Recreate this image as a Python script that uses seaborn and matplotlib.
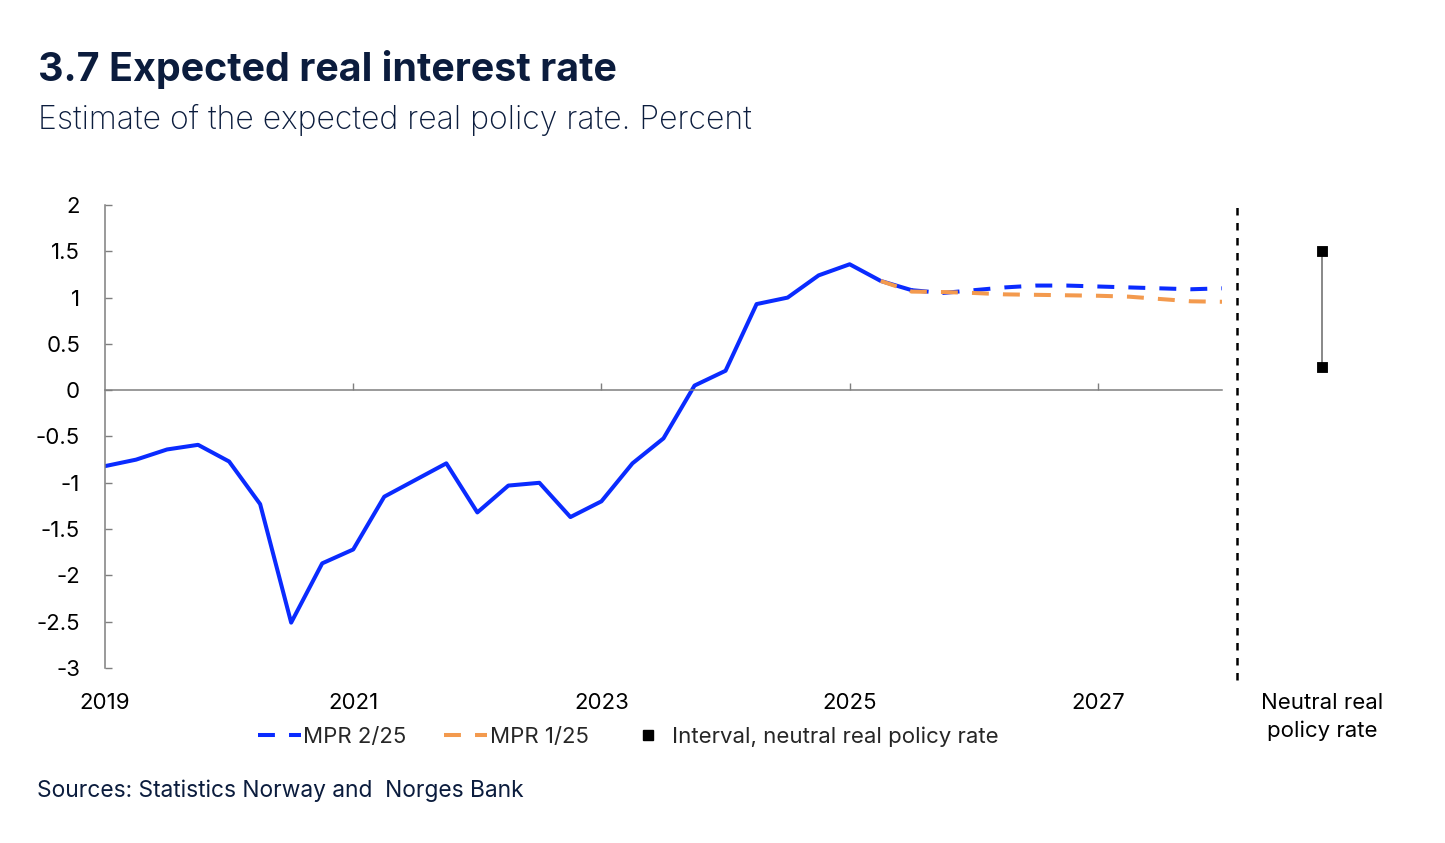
import numpy as np
import pandas as pd
import matplotlib
matplotlib.use("Agg")
import matplotlib.pyplot as plt
from matplotlib.lines import Line2D
from matplotlib.ticker import FuncFormatter
import seaborn as sns

# quarterly periods, 2019Q1 - 2028Q1
quarters = pd.period_range("2019Q1", "2028Q1", freq="Q")

# MPR 2/25: history up to 2025Q3, projection from 2025Q3
mpr2_hist = [-0.82, -0.75, -0.64, -0.59, -0.77, -1.23, -2.51, -1.87, -1.72,
             -1.15, -0.97, -0.79, -1.32, -1.03, -1.00, -1.37, -1.20, -0.79,
             -0.52, 0.05, 0.21, 0.93, 1.00, 1.24, 1.36, 1.18, 1.08]
mpr2_proj = [1.08, 1.05, 1.08, 1.11, 1.13, 1.13, 1.12, 1.11, 1.10, 1.09, 1.10]
# MPR 1/25 projection from 2025Q2
mpr1_proj = [1.18, 1.065, 1.06, 1.05, 1.035, 1.03, 1.025, 1.02, 1.01,
             0.985, 0.96, 0.955]

# interval for the neutral real policy rate
neutral_low = 0.25
neutral_high = 1.5

year_ticks = [2019, 2021, 2023, 2025, 2027]
y_ticks = [-3, -2.5, -2, -1.5, -1, -0.5, 0, 0.5, 1, 1.5, 2]

BLUE = "#0a2bff"
ORANGE = "#f39a4e"
NAVY = "#0b1c3d"
GREY = "#7f7f7f"

sns.set_theme(style="white")
plt.rcParams["font.family"] = ["Inter", "Roboto", "DejaVu Sans"]

x_all = quarters.year + (quarters.quarter - 1) / 4
n_hist = len(mpr2_hist)
x_hist = x_all[:n_hist]
x_proj2 = x_all[n_hist - 1:n_hist - 1 + len(mpr2_proj)]
x_proj1 = x_all[len(x_all) - len(mpr1_proj):]

W, H = 1445, 843
fig = plt.figure(figsize=(W / 100, H / 100), dpi=100)
ax_l, ax_b, ax_w, ax_h = 105 / W, 1 - 668 / H, 1117 / W, 463 / H
ax = fig.add_axes([ax_l, ax_b, ax_w, ax_h])
ax2 = fig.add_axes([1237 / W, ax_b, 170 / W, ax_h], sharey=ax)

dash = (0, (4.2, 3.5))
lw = 2.9
sns.lineplot(x=x_hist, y=mpr2_hist, ax=ax, color=BLUE, lw=lw)
sns.lineplot(x=x_proj2, y=mpr2_proj, ax=ax, color=BLUE, lw=lw, linestyle=dash)
sns.lineplot(x=x_proj1, y=mpr1_proj, ax=ax, color=ORANGE, lw=lw, linestyle=dash)

ax.set_xlim(2019, 2028)
ax.set_ylim(-3, 2)
ax.set_yticks(y_ticks)
ax.yaxis.set_major_formatter(FuncFormatter(lambda v, p: f"{v:g}"))
for s in ["top", "right"]:
    ax.spines[s].set_visible(False)
ax.spines["left"].set_color(GREY)
ax.spines["left"].set_linewidth(1.1)
ax.spines["bottom"].set_position(("data", 0))
ax.spines["bottom"].set_color(GREY)
ax.spines["bottom"].set_linewidth(1.1)
ax.set_xticks(year_ticks[1:])
ax.tick_params(axis="x", direction="in", length=5, width=1, color=GREY,
               labelbottom=False, bottom=True)
ax.tick_params(axis="y", direction="in", length=5, width=1, color=GREY,
               pad=18, labelsize=16, labelcolor="black", left=True)
ax.set_xlabel("")
ax.set_ylabel("")

sec = ax.secondary_xaxis("bottom")
sec.set_xticks(year_ticks)
sec.set_xticklabels([str(y) for y in year_ticks])
sec.tick_params(length=0, pad=18, labelsize=16, labelcolor="black")
sec.spines["bottom"].set_visible(False)

# right panel: neutral real rate interval
ax2.plot([0.5, 0.5], [neutral_low, neutral_high], color=GREY, lw=1.3, zorder=2)
sns.scatterplot(x=[0.5, 0.5], y=[neutral_low, neutral_high], ax=ax2,
                marker="s", color="black", s=60, edgecolor="black", zorder=3)
ax2.axvline(0, ymin=-0.026, ymax=1.011, color="black", lw=1.8,
            linestyle=(0, (3, 3)), clip_on=False)
ax2.set_xlim(0, 1)
for s in ax2.spines.values():
    s.set_visible(False)
ax2.set_xticks([0.5])
ax2.set_xticklabels(["Neutral real\npolicy rate"], linespacing=1.45)
ax2.tick_params(axis="x", length=0, pad=18, labelsize=16, labelcolor="black")
ax2.tick_params(axis="y", left=False, labelleft=False)
ax2.set_xlabel("")
ax2.set_ylabel("")

handles = [
    Line2D([], [], color=BLUE, lw=lw, linestyle=dash),
    Line2D([], [], color=ORANGE, lw=lw, linestyle=dash),
    Line2D([], [], color="black", marker="s", markersize=7, linestyle="none"),
]
labels = ["MPR 2/25", "MPR 1/25", "Interval, neutral real policy rate"]
fig.legend(handles, labels, loc="center", bbox_to_anchor=(628 / W, 1 - 737 / H),
           ncol=3, frameon=False, fontsize=16, handlelength=1.94,
           handletextpad=0.1, columnspacing=1.7, borderpad=0)

fig.text(38 / W, 1 - 81 / H, "3.7 Expected real interest rate", fontsize=28.4,
         fontweight="bold", color=NAVY, va="baseline")
fig.text(38 / W, 1 - 129 / H, "Estimate of the expected real policy rate. Percent",
         fontsize=23, fontweight="light", color=NAVY, va="baseline")
fig.text(37 / W, 1 - 797 / H, "Sources: Statistics Norway and  Norges Bank",
         fontsize=16.4, color=NAVY, va="baseline")

fig.savefig("out.png", dpi=100)
